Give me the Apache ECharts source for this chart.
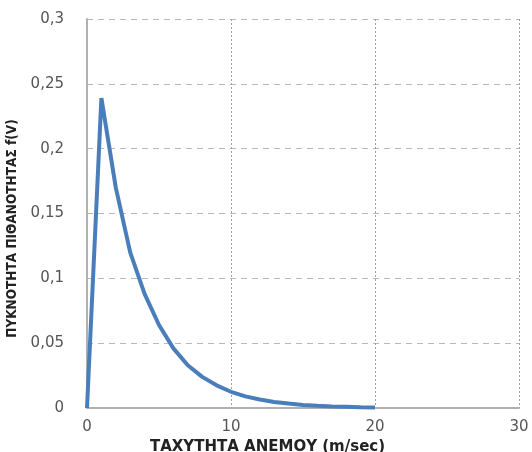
<!DOCTYPE html>
<html>
<head>
<meta charset="utf-8">
<script src="https://cdn.jsdelivr.net/npm/echarts@6/dist/echarts.min.js"></script>
<style>html,body{margin:0;padding:0;background:#fff}#c{width:532px;height:452px}</style>
</head>
<body>
<div id="c"></div>
<script>
// Wind speed (m/s)
var speeds = [0,1,2,3,4,5,6,7,8,9,10,11,12,13,14,15,16,17,18,19,20];
// Probability density f(V)
var density = [0,0.239,0.170,0.120,0.088,0.064,0.046,0.033,0.024,0.0175,0.0125,0.009,0.0065,0.0047,0.0034,0.0024,0.0017,0.0012,0.0009,0.0006,0.0004];
var xTicks = {min:0, max:30, interval:10};
var yTicks = {min:0, max:0.3, interval:0.05};
var xName = 'ΤΑΧΥΤΗΤΑ ΑΝΕΜΟΥ (m/sec)';
var yName = 'ΠΥΚΝΟΤΗΤΑ ΠΙΘΑΝΟΤΗΤΑΣ f(V)';

var data = speeds.map(function(s,i){return [s, density[i]];});
function comma(v){ return String(Math.round(v*1000)/1000).replace('.', ','); }

var chart = echarts.init(document.getElementById('c'));
chart.setOption({
  animation:false,
  backgroundColor:'#fff',
  grid:{left:87, right:13, top:19, bottom:44, containLabel:false, outerBoundsMode:'none'},
  xAxis:{
    type:'value', min:xTicks.min, max:xTicks.max, interval:xTicks.interval,
    name:xName, nameLocation:'middle', nameGap:21,
    nameTextStyle:{fontFamily:'DejaVu Sans', fontWeight:'bold', fontSize:15, color:'#222', padding:[0,71,0,0]},
    axisLine:{lineStyle:{color:'#b0b0b0', width:2}},
    axisTick:{show:false},
    axisLabel:{fontFamily:'DejaVu Sans', fontSize:15, color:'#555', margin:12, formatter:comma},
    splitLine:{show:true, lineStyle:{color:'#a0a0a0', type:[2,2], width:1}}
  },
  yAxis:{
    type:'value', min:yTicks.min, max:yTicks.max, interval:yTicks.interval,
    name:yName, nameLocation:'middle', nameGap:66,
    nameTextStyle:{fontFamily:'DejaVu Sans Condensed', fontWeight:'bold', fontSize:13.5, color:'#222', padding:[0,30,0,0]},
    axisLine:{show:true, lineStyle:{color:'#b0b0b0', width:2}},
    axisTick:{show:false},
    axisLabel:{fontFamily:'DejaVu Sans', fontSize:15, color:'#555', margin:23, formatter:comma},
    splitLine:{show:true, lineStyle:{color:'#b8b8b8', type:[6,5], width:1}}
  },
  series:[{
    type:'line', data:data, showSymbol:false, smooth:false,
    lineStyle:{color:'#4a7ebb', width:4}, itemStyle:{color:'#4a7ebb'}
  }]
});
</script>
</body>
</html>
